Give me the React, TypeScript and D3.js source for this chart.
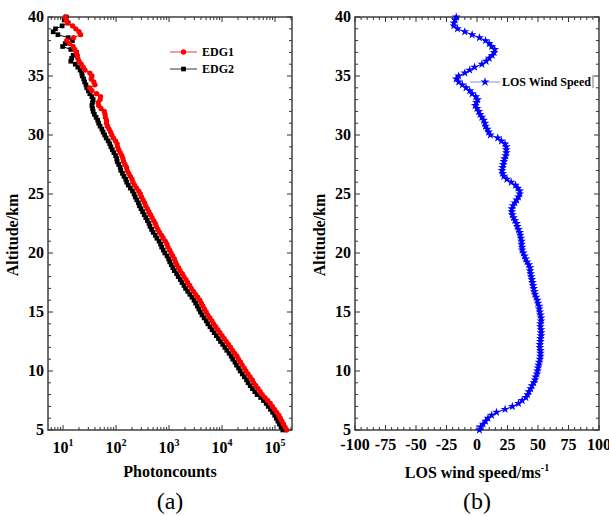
import React, { useEffect, useRef } from 'react';
import * as d3 from 'd3';

// altitude grid of the profiles (km)
const altitude = [
  5, 5.25, 5.5, 5.75, 6, 6.25, 6.5, 6.75, 7, 7.25, 7.5, 7.75, 8, 8.25, 8.5, 8.75, 9, 9.25, 9.5, 9.75,
  10, 10.25, 10.5, 10.75, 11, 11.25, 11.5, 11.75, 12, 12.25, 12.5, 12.75, 13, 13.25, 13.5, 13.75, 14, 14.25, 14.5, 14.75,
  15, 15.25, 15.5, 15.75, 16, 16.25, 16.5, 16.75, 17, 17.25, 17.5, 17.75, 18, 18.25, 18.5, 18.75, 19, 19.25, 19.5, 19.75,
  20, 20.25, 20.5, 20.75, 21, 21.25, 21.5, 21.75, 22, 22.25, 22.5, 22.75, 23, 23.25, 23.5, 23.75, 24, 24.25, 24.5, 24.75,
  25, 25.25, 25.5, 25.75, 26, 26.25, 26.5, 26.75, 27, 27.25, 27.5, 27.75, 28, 28.25, 28.5, 28.75, 29, 29.25, 29.5, 29.75,
  30, 30.25, 30.5, 30.75, 31, 31.25, 31.5, 31.75, 32, 32.25, 32.5, 32.75, 33, 33.25, 33.5, 33.75, 34, 34.25, 34.5, 34.75,
  35, 35.25, 35.5, 35.75, 36, 36.25, 36.5, 36.75, 37, 37.25, 37.5, 37.75, 38, 38.25, 38.5, 38.75, 39, 39.25, 39.5, 39.75,
  40,
];

// photon counts, channel EDG1
const edg1 = [
  166000, 155000, 144500, 134900, 125900, 117500, 107200, 97700, 89100, 81300, 72400, 64600, 57500, 52500, 47900, 43600, 39800, 37200, 33900, 30900,
  28200, 26300, 24000, 22400, 20400, 19100, 17400, 15800, 14500, 13200, 12000, 11000, 10000, 9120, 8320, 7590, 6920, 6460, 5890, 5370,
  5010, 4680, 4370, 4070, 3800, 3470, 3160, 2880, 2630, 2450, 2240, 2090, 1910, 1780, 1620, 1510, 1410, 1320, 1260, 1175,
  1096, 1023, 955, 912, 851, 776, 724, 661, 617, 575, 550, 513, 479, 447, 417, 389, 363, 347, 324, 302,
  288, 269, 245, 224, 209, 200, 186, 174, 162, 158, 148, 138, 135, 129, 120, 112, 107, 105, 98, 89,
  83, 79, 74, 69, 66, 66, 63, 62, 60, 52, 47, 46, 50, 51, 43, 35, 32, 40, 38, 34,
  35, 32, 26, 24, 22, 20, 19, 18.6, 17.8, 16.6, 15.5, 13.2, 11.7, 15.8, 21.4, 20, 17.4, 15.1, 12, 11.5,
  11,
];

// photon counts, channel EDG2
const edg2 = [
  140000, 130000, 121000, 113000, 105500, 98500, 90000, 82000, 74500, 68000, 60500, 53500, 46000, 41500, 37500, 34000, 31000, 29000, 26400, 24100,
  22000, 20500, 18700, 17500, 15900, 14900, 13600, 12300, 11300, 10300, 9360, 8580, 7800, 7110, 6490, 5920, 5400, 5040, 4590, 4190,
  3910, 3650, 3410, 3170, 2960, 2710, 2460, 2250, 2050, 1910, 1750, 1630, 1490, 1390, 1260, 1180, 1100, 1030, 980, 915,
  833, 778, 726, 693, 647, 590, 550, 502, 469, 437, 418, 390, 364, 340, 317, 296, 276, 264, 246, 230,
  219, 204, 186, 170, 159, 152, 141, 132, 123, 120, 112, 105, 103, 98, 91, 85, 80, 76, 71, 65,
  61, 57, 54, 50, 47, 45, 42, 39, 37, 36, 35, 36, 37, 35, 32, 30, 28, 27, 25.5, 24.5,
  23, 22.5, 21, 19, 17, 14, 14.5, 15.5, 18, 14, 9.8, 11, 15, 12.5, 8, 6.5, 7.2, 9.6, 12.5, 10.5,
  11.5,
];

// line-of-sight wind speed (m/s)
const losWind = [
  2, 3, 5, 7, 9, 12, 16, 23, 29, 34, 37, 40, 41.5, 42.5, 44, 45, 46.5, 47.5, 48, 49,
  49.5, 50, 50.5, 51, 51.5, 52, 52, 52, 51.5, 51.5, 52, 52, 52.5, 52.5, 52.5, 52, 52, 52.5, 52.5, 52,
  51.5, 51, 51, 50, 49.5, 48.5, 47.5, 47, 46.5, 46, 45.5, 45, 44.5, 44, 43.5, 43.5, 42.5, 41, 40, 39,
  38, 37, 37, 36.5, 36.5, 36, 35.5, 35, 34, 33, 32.5, 31, 30, 29, 28.5, 28.5, 29.5, 31, 32.5, 34,
  35, 35, 33.5, 31.5, 28, 24.5, 22, 21, 20.5, 21, 21.5, 22, 22.5, 23.5, 24, 24, 24, 23, 20, 17,
  11, 9.5, 8.5, 7, 6.5, 5.5, 4, 2.5, 1.5, 0, -1.5, -0.5, 0.5, -1, -4, -6, -9, -12, -15, -17,
  -15, -10, -6, -2, 4, 7.5, 10, 12.5, 14, 14.5, 12, 10, 7, 2, -4, -10, -16, -19, -19, -18,
  -17,
];

const altTicks = [5, 10, 15, 20, 25, 30, 35, 40];
const countExp = [1, 2, 3, 4, 5];
const windTicks = [-100, -75, -50, -25, 0, 25, 50, 75, 100];

const W = 609;
const H = 516;
const FONT = '"Liberation Serif", "Times New Roman", serif';

const App = () => {
  const svgRef = useRef<SVGSVGElement>(null);

  useEffect(() => {
    const svg = d3.select(svgRef.current);
    svg.selectAll('*').remove();

    const top = 17;
    const bottom = 430;
    const y = d3.scaleLinear().domain([5, 40]).range([bottom, top]);
    const xa = d3.scaleLog().domain([5.2, 209000]).range([48, 292]);
    const xb = d3.scaleLinear().domain([-100, 100]).range([355, 599]);

    const axisColor = '#333';

    // frame with inward ticks on all four sides
    const drawFrame = (x0: number, x1: number, xMajor: number[], xMinor: number[]) => {
      const g = svg.append('g').attr('stroke', axisColor).attr('fill', 'none');
      const tick = (ax: number, ay: number, bx: number, by: number) =>
        g.append('line').attr('x1', ax).attr('y1', ay).attr('x2', bx).attr('y2', by).attr('stroke-width', 1);

      d3.range(5, 41).forEach((a) => {
        const len = a % 5 === 0 ? 5 : 3;
        tick(x0, y(a), x0 + len, y(a));
        tick(x1, y(a), x1 - len, y(a));
      });
      xMajor.forEach((px) => {
        tick(px, bottom, px, bottom - 5);
        tick(px, top, px, top + 5);
      });
      xMinor.forEach((px) => {
        tick(px, bottom, px, bottom - 3);
        tick(px, top, px, top + 3);
      });
      g.append('rect')
        .attr('x', x0)
        .attr('y', top)
        .attr('width', x1 - x0)
        .attr('height', bottom - top)
        .attr('stroke-width', 1.4);

      // altitude tick labels
      svg
        .append('g')
        .selectAll('text')
        .data(altTicks)
        .enter()
        .append('text')
        .attr('x', x0 - 4)
        .attr('y', (d) => y(d))
        .attr('dy', '0.33em')
        .attr('text-anchor', 'end')
        .attr('font-family', FONT)
        .attr('font-weight', 'bold')
        .attr('font-size', 16)
        .text((d) => d);

      // altitude title
      svg
        .append('text')
        .attr('transform', `translate(${x0 - 30}, 235) rotate(-90)`)
        .attr('text-anchor', 'middle')
        .attr('font-family', FONT)
        .attr('font-weight', 'bold')
        .attr('font-size', 16)
        .text('Altitude/km');
    };

    // ---------- panel (a) ----------
    const [d0, d1] = xa.domain();
    const logMinor: number[] = [];
    d3.range(0, 6).forEach((k) => {
      d3.range(2, 10).forEach((m) => {
        const v = m * Math.pow(10, k);
        if (v >= d0 && v <= d1) logMinor.push(xa(v));
      });
    });
    drawFrame(48, 292, countExp.map((e) => xa(Math.pow(10, e))), logMinor);

    const labA = svg
      .append('g')
      .selectAll('text')
      .data(countExp)
      .enter()
      .append('text')
      .attr('x', (e) => xa(Math.pow(10, e)))
      .attr('y', 453)
      .attr('text-anchor', 'middle')
      .attr('font-family', FONT)
      .attr('font-weight', 'bold')
      .attr('font-size', 16);
    labA.append('tspan').text('10');
    labA.append('tspan').attr('dy', -7).attr('font-size', 10).text((e) => e);

    svg
      .append('text')
      .attr('x', 170)
      .attr('y', 477)
      .attr('text-anchor', 'middle')
      .attr('font-family', FONT)
      .attr('font-weight', 'bold')
      .attr('font-size', 16)
      .text('Photoncounts');

    const lineA = (vals: number[]) =>
      d3
        .line<number>()
        .x((d) => xa(d))
        .y((_, i) => y(altitude[i]))(vals);

    const series = [
      { vals: edg2, color: '#000', symbol: d3.symbolSquare, size: 22 },
      { vals: edg1, color: '#ff0000', symbol: d3.symbolCircle, size: 22 },
    ];
    series.forEach((s) => {
      svg.append('path').attr('d', lineA(s.vals)).attr('fill', 'none').attr('stroke', s.color).attr('stroke-width', 1);
      svg
        .append('g')
        .selectAll('path')
        .data(s.vals)
        .enter()
        .append('path')
        .attr('d', d3.symbol().type(s.symbol).size(s.size)())
        .attr('transform', (d, i) => `translate(${xa(d)}, ${y(altitude[i])})`)
        .attr('fill', s.color);
    });

    // legend (a)
    const legA = [
      { name: 'EDG1', color: '#ff0000', symbol: d3.symbolCircle, size: 22, y: 52 },
      { name: 'EDG2', color: '#000', symbol: d3.symbolSquare, size: 22, y: 69 },
    ];
    legA.forEach((l) => {
      svg.append('line').attr('x1', 170).attr('x2', 197).attr('y1', l.y).attr('y2', l.y).attr('stroke', l.color).attr('stroke-width', 0.8);
      svg
        .append('path')
        .attr('d', d3.symbol().type(l.symbol).size(l.size)())
        .attr('transform', `translate(183.5, ${l.y})`)
        .attr('fill', l.color);
      svg
        .append('text')
        .attr('x', 202)
        .attr('y', l.y)
        .attr('dy', '0.35em')
        .attr('font-family', FONT)
        .attr('font-weight', 'bold')
        .attr('font-size', 12)
        .text(l.name);
    });

    svg
      .append('text')
      .attr('x', 170)
      .attr('y', 509)
      .attr('text-anchor', 'middle')
      .attr('font-family', FONT)
      .attr('font-size', 24)
      .text('(a)');

    // ---------- panel (b) ----------
    const windMinor = d3.range(-100, 101, 5).filter((v) => v % 25 !== 0).map((v) => xb(v));
    drawFrame(355, 599, windTicks.map((v) => xb(v)), windMinor);

    svg
      .append('g')
      .selectAll('text')
      .data(windTicks)
      .enter()
      .append('text')
      .attr('x', (d) => xb(d))
      .attr('y', 450)
      .attr('text-anchor', 'middle')
      .attr('font-family', FONT)
      .attr('font-weight', 'bold')
      .attr('font-size', 16)
      .text((d) => d);

    const titleB = svg
      .append('text')
      .attr('x', 477)
      .attr('y', 478)
      .attr('text-anchor', 'middle')
      .attr('font-family', FONT)
      .attr('font-weight', 'bold')
      .attr('font-size', 16);
    titleB.append('tspan').text('LOS wind speed/ms');
    titleB.append('tspan').attr('dy', -7).attr('font-size', 10).text('-1');

    const lineB = d3
      .line<number>()
      .x((d) => xb(d))
      .y((_, i) => y(altitude[i]));
    svg.append('path').attr('d', lineB(losWind)).attr('fill', 'none').attr('stroke', '#0000ff').attr('stroke-width', 1);
    svg
      .append('g')
      .selectAll('path')
      .data(losWind)
      .enter()
      .append('path')
      .attr('d', d3.symbol().type(d3.symbolStar).size(24)())
      .attr('transform', (d, i) => `translate(${xb(d)}, ${y(altitude[i])})`)
      .attr('fill', '#0000ff');

    // legend (b)
    svg.append('line').attr('x1', 470).attr('x2', 500).attr('y1', 82).attr('y2', 82).attr('stroke', '#6f6fd0').attr('stroke-width', 0.8);
    svg
      .append('path')
      .attr('d', d3.symbol().type(d3.symbolStar).size(26)())
      .attr('transform', 'translate(485, 82)')
      .attr('fill', '#0000ff');
    svg
      .append('text')
      .attr('x', 502)
      .attr('y', 82)
      .attr('dy', '0.35em')
      .attr('font-family', FONT)
      .attr('font-weight', 'bold')
      .attr('font-size', 12)
      .text('LOS Wind Speed');
    svg.append('line').attr('x1', 593).attr('x2', 593).attr('y1', 75).attr('y2', 88).attr('stroke', '#777').attr('stroke-width', 1);

    svg
      .append('text')
      .attr('x', 477)
      .attr('y', 509)
      .attr('text-anchor', 'middle')
      .attr('font-family', FONT)
      .attr('font-size', 24)
      .text('(b)');
  }, []);

  return (
    <svg
      ref={svgRef}
      width={W}
      height={H}
      style={{ position: 'absolute', left: 0, top: 0, background: '#fff' }}
    />
  );
};

export default App;
